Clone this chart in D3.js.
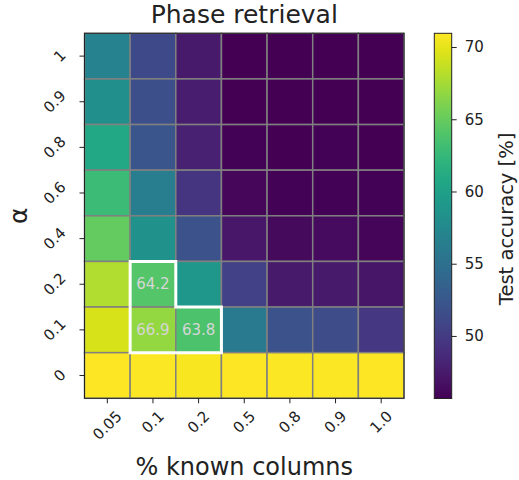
<!DOCTYPE html>
<html>
<head>
<meta charset="utf-8">
<script src="https://cdn.jsdelivr.net/npm/d3@7"></script>
<style>
  body { margin: 0; background: #fff; }
  text { font-family: "DejaVu Sans", sans-serif; }
</style>
</head>
<body>
<svg id="chart" width="519" height="480"></svg>
<script>
const columns = ["0.05", "0.1", "0.2", "0.5", "0.8", "0.9", "1.0"];
const rows = ["1", "0.9", "0.8", "0.6", "0.4", "0.2", "0.1", "0"];
const row_1   = [56.8, 51.2, 47.4, 45.7, 45.7, 45.7, 45.7];
const row_0_9 = [58.3, 51.7, 47.6, 45.7, 45.7, 45.7, 45.7];
const row_0_8 = [60.8, 52.3, 48.0, 45.8, 45.7, 45.8, 45.7];
const row_0_6 = [62.9, 56.3, 49.6, 46.1, 45.8, 45.8, 45.8];
const row_0_4 = [64.9, 58.4, 52.0, 47.2, 46.3, 46.4, 46.0];
const row_0_2 = [67.9, 64.2, 59.1, 50.5, 47.4, 47.4, 47.1];
const row_0_1 = [69.4, 66.9, 63.8, 56.0, 52.0, 51.4, 49.7];
const row_0   = [70.9, 70.8, 70.7, 70.9, 70.8, 70.8, 70.9];
const values = [row_1, row_0_9, row_0_8, row_0_6, row_0_4, row_0_2, row_0_1, row_0];
const annotated = [["0.1", "0.2"], ["0.1", "0.1"], ["0.2", "0.1"]];
const colorTicks = [50, 55, 60, 65, 70];
const colorDomain = [45.67, 70.95];

const svg = d3.select("#chart");
const L = 84.5, T = 33.3, W = 319.5, H = 365;
const x = d3.scaleBand().domain(columns).range([L, L + W]);
const y = d3.scaleBand().domain(rows).range([T, T + H]);
const color = d3.scaleSequential(d3.interpolateViridis).domain(colorDomain);

const cells = [];
rows.forEach((r, i) => columns.forEach((c, j) => cells.push({ r, c, v: values[i][j] })));

svg.append("g").selectAll("rect").data(cells).join("rect")
  .attr("x", d => x(d.c)).attr("y", d => y(d.r))
  .attr("width", x.bandwidth()).attr("height", y.bandwidth())
  .attr("fill", d => color(d.v))
  .attr("stroke", "#808080").attr("stroke-width", 1.5);

// spine
svg.append("rect").attr("x", L).attr("y", T).attr("width", W).attr("height", H)
  .attr("fill", "none").attr("stroke", "#222").attr("stroke-width", 1);

// annotations
const lookup = (r, c) => values[rows.indexOf(r)][columns.indexOf(c)];
svg.append("g").selectAll("text").data(annotated).join("text")
  .attr("x", d => x(d[0]) + x.bandwidth() / 2)
  .attr("y", d => y(d[1]) + y.bandwidth() / 2)
  .attr("text-anchor", "middle").attr("dominant-baseline", "central")
  .attr("font-size", 15).attr("fill", "#d6d6d6")
  .text(d => lookup(d[1], d[0]).toFixed(1));

// highlight outline
const xl = x("0.1"), xm = x("0.2"), xr = x("0.2") + x.bandwidth();
const yt = y("0.2"), ym = y("0.1"), yb = y("0.1") + y.bandwidth();
svg.append("path")
  .attr("d", d3.line()([[xl, yt], [xm, yt], [xm, ym], [xr, ym], [xr, yb], [xl, yb]]) + "Z")
  .attr("fill", "none").attr("stroke", "#fff").attr("stroke-width", 3);

// x ticks
const fs = 15, tickLen = 5, pad = 5;
const gx = svg.append("g");
columns.forEach(c => {
  const cx = x(c) + x.bandwidth() / 2;
  gx.append("line").attr("x1", cx).attr("x2", cx).attr("y1", T + H).attr("y2", T + H + tickLen)
    .attr("stroke", "#222").attr("stroke-width", 1);
  const t = gx.append("text").attr("font-size", fs).attr("fill", "#222")
    .attr("text-anchor", "middle").attr("dominant-baseline", "central").text(c);
  const w = t.node().getComputedTextLength();
  const bh = (w + fs * 1.0) * Math.SQRT1_2;
  const cy = T + H + tickLen + pad + bh / 2;
  t.attr("x", cx).attr("y", cy).attr("transform", `rotate(-45,${cx},${cy})`);
});

// y ticks
const gy = svg.append("g");
rows.forEach(r => {
  const cy = y(r) + y.bandwidth() / 2;
  gy.append("line").attr("x1", L - tickLen).attr("x2", L).attr("y1", cy).attr("y2", cy)
    .attr("stroke", "#222").attr("stroke-width", 1);
  const t = gy.append("text").attr("font-size", fs).attr("fill", "#222")
    .attr("text-anchor", "middle").attr("dominant-baseline", "central").text(r);
  const w = t.node().getComputedTextLength();
  const bw = (w + fs * 1.0) * Math.SQRT1_2;
  const cx = L - tickLen - 11 - bw / 2;
  t.attr("x", cx).attr("y", cy).attr("transform", `rotate(-45,${cx},${cy})`);
});

// title and axis labels
svg.append("text").attr("x", L + W / 2).attr("y", 23).attr("text-anchor", "middle")
  .attr("font-size", 25).attr("fill", "#222").text("Phase retrieval");
svg.append("text").attr("x", L + W / 2).attr("y", 475).attr("text-anchor", "middle")
  .attr("font-size", 24).attr("fill", "#222").text("% known columns");
svg.append("text").attr("transform", `translate(27,${T + H / 2}) rotate(-90)`)
  .attr("text-anchor", "middle").attr("font-size", 25).attr("fill", "#222").text("α");

// colorbar
const CL = 434.3, CW = 17.4, CT = 33.3, CH = 365.2;
const cs = d3.scaleLinear().domain(colorDomain).range([CT + CH, CT]);
const defs = svg.append("defs");
const grad = defs.append("linearGradient").attr("id", "vir")
  .attr("x1", 0).attr("y1", 1).attr("x2", 0).attr("y2", 0);
d3.range(0, 1.0001, 0.05).forEach(t => {
  grad.append("stop").attr("offset", t).attr("stop-color", d3.interpolateViridis(t));
});
svg.append("rect").attr("x", CL).attr("y", CT).attr("width", CW).attr("height", CH)
  .attr("fill", "url(#vir)").attr("stroke", "#222").attr("stroke-width", 1);
const cax = d3.axisRight(cs).tickValues(colorTicks).tickSize(5).tickPadding(8);
const gc = svg.append("g").attr("transform", `translate(${CL + CW},0)`).call(cax);
gc.select(".domain").remove();
gc.selectAll("text").attr("font-size", fs).attr("fill", "#222").attr("font-family", "DejaVu Sans");
gc.selectAll("line").attr("stroke", "#222");
svg.append("text").attr("transform", `translate(513,${CT + CH / 2 + 3}) rotate(-90)`)
  .attr("text-anchor", "middle").attr("font-size", 19.5).attr("fill", "#222").text("Test accuracy [%]");
</script>
</body>
</html>
